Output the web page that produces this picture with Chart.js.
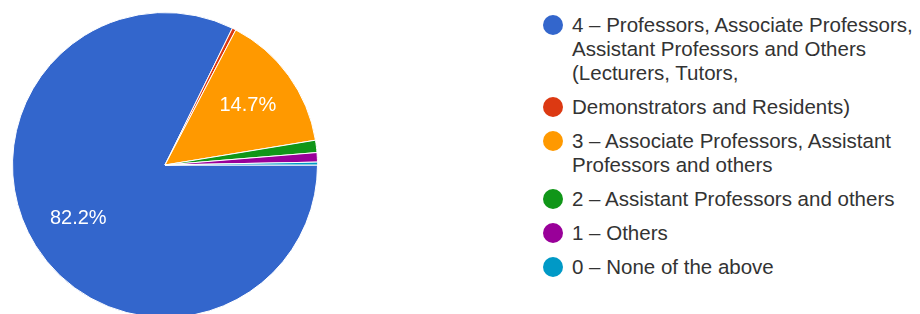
<!DOCTYPE html>
<html>
<head>
<meta charset="utf-8">
<script src="https://cdn.jsdelivr.net/npm/chart.js@4.4.0/dist/chart.umd.min.js"></script>
<style>
  html, body {
    margin: 0;
    padding: 0;
    width: 920px;
    height: 314px;
    overflow: hidden;
    background: #fff;
    font-family: 'Liberation Sans', Arial, sans-serif;
  }
  .pie-box {
    position: absolute;
    left: 12px;
    top: 12px;
    width: 306px;
    height: 306px;
  }
  .legend {
    position: absolute;
    left: 543px;
    top: 13px;
    width: 377px;
    margin: 0;
    padding: 0;
    list-style: none;
  }
  .legend li {
    position: relative;
    padding-left: 29px;
    margin-bottom: 10px;
    font-size: 20.5px;
    line-height: 24px;
    color: #333;
  }
  .legend .dot {
    position: absolute;
    left: 0;
    top: 2px;
    width: 20px;
    height: 20px;
    border-radius: 50%;
  }
</style>
</head>
<body>
<div class="pie-box"><canvas id="pie"></canvas></div>
<ul class="legend" id="legend"></ul>
<script>
const categories = [
  '4 – Professors, Associate Professors, Assistant Professors and Others (Lecturers, Tutors,',
  'Demonstrators and Residents)',
  '3 – Associate Professors, Assistant Professors and others',
  '2 – Assistant Professors and others',
  '1 – Others',
  '0 – None of the above',
];
const percents = [82.2, 0.4, 14.7, 1.3, 1.0, 0.3];
const colors = ['#3366cc', '#dc3912', '#ff9900', '#109618', '#990099', '#0099c6'];

// percentage text inside the big slices
const sliceLabels = {
  id: 'sliceLabels',
  afterDatasetsDraw(chart) {
    const ctx = chart.ctx;
    const meta = chart.getDatasetMeta(0);
    ctx.save();
    ctx.fillStyle = '#ffffff';
    ctx.font = '20px "Liberation Sans", Arial, sans-serif';
    ctx.textAlign = 'center';
    ctx.textBaseline = 'middle';
    meta.data.forEach((arc, i) => {
      if (percents[i] < 5) return;
      const p = arc.getProps(['x', 'y', 'startAngle', 'endAngle', 'outerRadius'], true);
      const mid = (p.startAngle + p.endAngle) / 2;
      const r = p.outerRadius * 0.67;
      ctx.fillText(percents[i].toFixed(1) + '%', p.x + Math.cos(mid) * r, p.y + Math.sin(mid) * r);
    });
    ctx.restore();
  },
};

new Chart(document.getElementById('pie'), {
  type: 'pie',
  data: {
    labels: categories,
    datasets: [
      {
        data: percents,
        backgroundColor: colors,
        borderColor: '#ffffff',
        borderWidth: 1,
      },
    ],
  },
  options: {
    responsive: true,
    maintainAspectRatio: false,
    animation: false,
    rotation: 90,
    events: [],
    layout: { padding: 0 },
    plugins: {
      legend: { display: false },
      tooltip: { enabled: false },
    },
  },
  plugins: [sliceLabels],
});

// legend on the right
const legend = document.getElementById('legend');
categories.forEach((name, i) => {
  const li = document.createElement('li');
  const dot = document.createElement('span');
  dot.className = 'dot';
  dot.style.background = colors[i];
  li.appendChild(dot);
  li.appendChild(document.createTextNode(name));
  legend.appendChild(li);
});
</script>
</body>
</html>
